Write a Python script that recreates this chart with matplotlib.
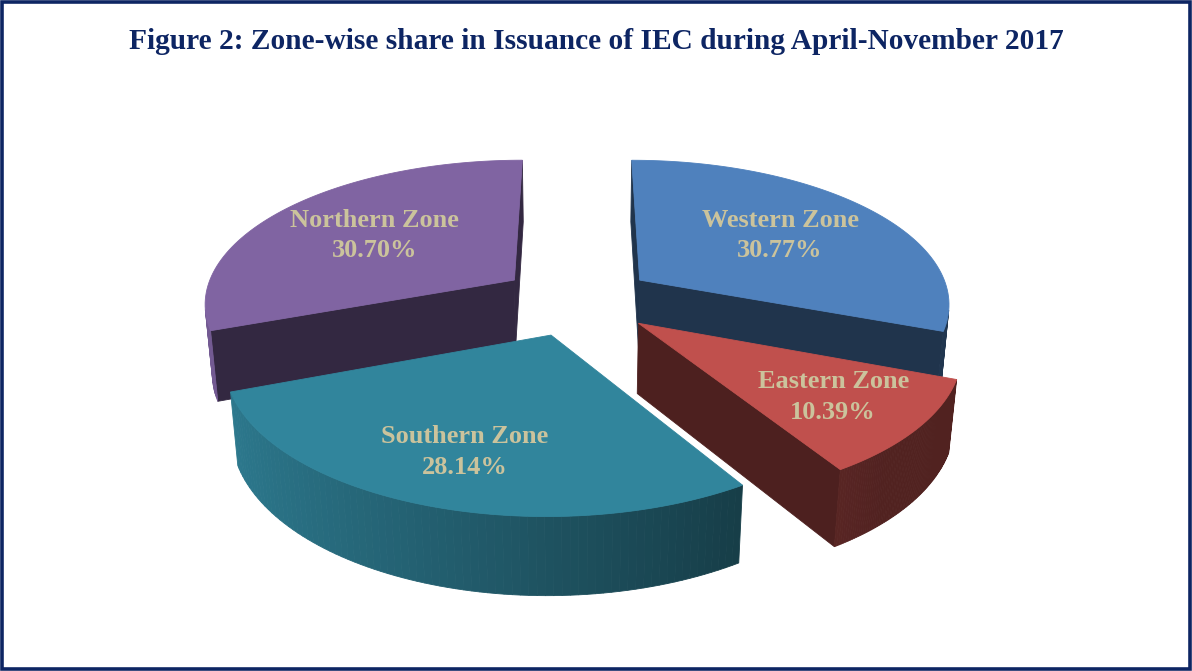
import numpy as np
import matplotlib.pyplot as plt
from matplotlib.patches import Polygon, Rectangle
from matplotlib.colors import to_rgb

# data
zones = ['Western Zone', 'Eastern Zone', 'Southern Zone', 'Northern Zone']
shares = [30.77, 10.39, 28.14, 30.70]
colors = ['#4F81BD', '#C0504D', '#31859C', '#8064A2']

# 3d view settings (pie radius = 1)
elev = np.arcsin(0.46)
dist = 6.0
thick = 0.255
explode = 0.25
label_r = [0.6, 0.72, 0.72, 0.6]
px_x, px_y = 311, 311
cx, cy = 577, 300

view = np.array([0, np.cos(elev), -np.sin(elev)])
up = np.array([0, np.sin(elev), np.cos(elev)])
cam = -dist * view


def proj(p):
    p = np.atleast_2d(p)
    dep = dist + p @ view
    sx = p[:, 0] * dist / dep
    sy = (p @ up) * dist / dep
    return np.column_stack([cx + px_x * sx, cy - px_y * sy])


def rim(t, z=0.0):
    return np.array([np.sin(t), np.cos(t), z])


def shade(c, k):
    c = np.array(to_rgb(c))
    return tuple(c * (1 - k))


def visible(n, pts):
    c = np.mean(pts, axis=0)
    return np.dot(n, cam - c) > 0


fig = plt.figure(figsize=(11.92, 6.71), dpi=100)
ax = fig.add_axes([0, 0, 1, 1])
ax.set_xlim(0, 1192)
ax.set_ylim(671, 0)
ax.axis('off')

fracs = np.array(shares) / sum(shares)
edges = np.concatenate([[0], np.cumsum(fracs)]) * 2 * np.pi
down = np.array([0, 0, -thick])

slices = []
for i in range(len(zones)):
    t1, t2 = edges[i], edges[i + 1]
    tm = (t1 + t2) / 2
    off = explode * np.array([np.sin(tm), np.cos(tm), 0])
    slices.append((i, t1, t2, tm, off))

# far slices first
slices.sort(key=lambda s: -(s[4] @ view))

for i, t1, t2, tm, off in slices:
    col = colors[i]
    faces = []
    # radial sides
    for t, n in [(t1, np.array([-np.cos(t1), np.sin(t1), 0])),
                 (t2, np.array([np.cos(t2), -np.sin(t2), 0]))]:
        q = [off, off + rim(t), off + rim(t) + down, off + down]
        if visible(n, q):
            faces.append((q, shade(col, 0.6)))
    # outer wall, darker towards the right
    ts = np.linspace(t1, t2, 80)
    for a, b in zip(ts[:-1], ts[1:]):
        m = (a + b) / 2
        n = np.array([np.sin(m), np.cos(m), 0])
        q = [off + rim(a), off + rim(b), off + rim(b) + down, off + rim(a) + down]
        if visible(n, q):
            k = np.clip(0.38 + 0.3 * np.sin(m), 0.1, 0.58)
            faces.append((q, shade(col, k)))
    for q, fc in faces:
        ax.add_patch(Polygon(proj(np.array(q)), closed=True, facecolor=fc,
                             edgecolor=fc, linewidth=0.6))
    # top face
    top = [off] + [off + rim(t) for t in ts]
    ax.add_patch(Polygon(proj(np.array(top)), closed=True, facecolor=col,
                         edgecolor=col, linewidth=0.6))
    # label
    lp = proj(off + label_r[i] * rim(tm))[0]
    ax.text(lp[0], lp[1], f'{zones[i]}\n{shares[i]:.2f}%', ha='center', va='center',
            fontsize=19, fontweight='bold', family='Liberation Serif',
            color='#CBC39C', linespacing=1.4)

ax.text(596, 49, 'Figure 2: Zone-wise share in Issuance of IEC during April-November 2017',
        ha='center', va='baseline', fontsize=21.2, fontweight='bold',
        family='Liberation Serif', color='#0D2563')

ax.add_patch(Rectangle((1.5, 1.5), 1188.5, 667, fill=False, edgecolor='#0D2563',
                       linewidth=2.6))

fig.savefig('out.png', dpi=100)
